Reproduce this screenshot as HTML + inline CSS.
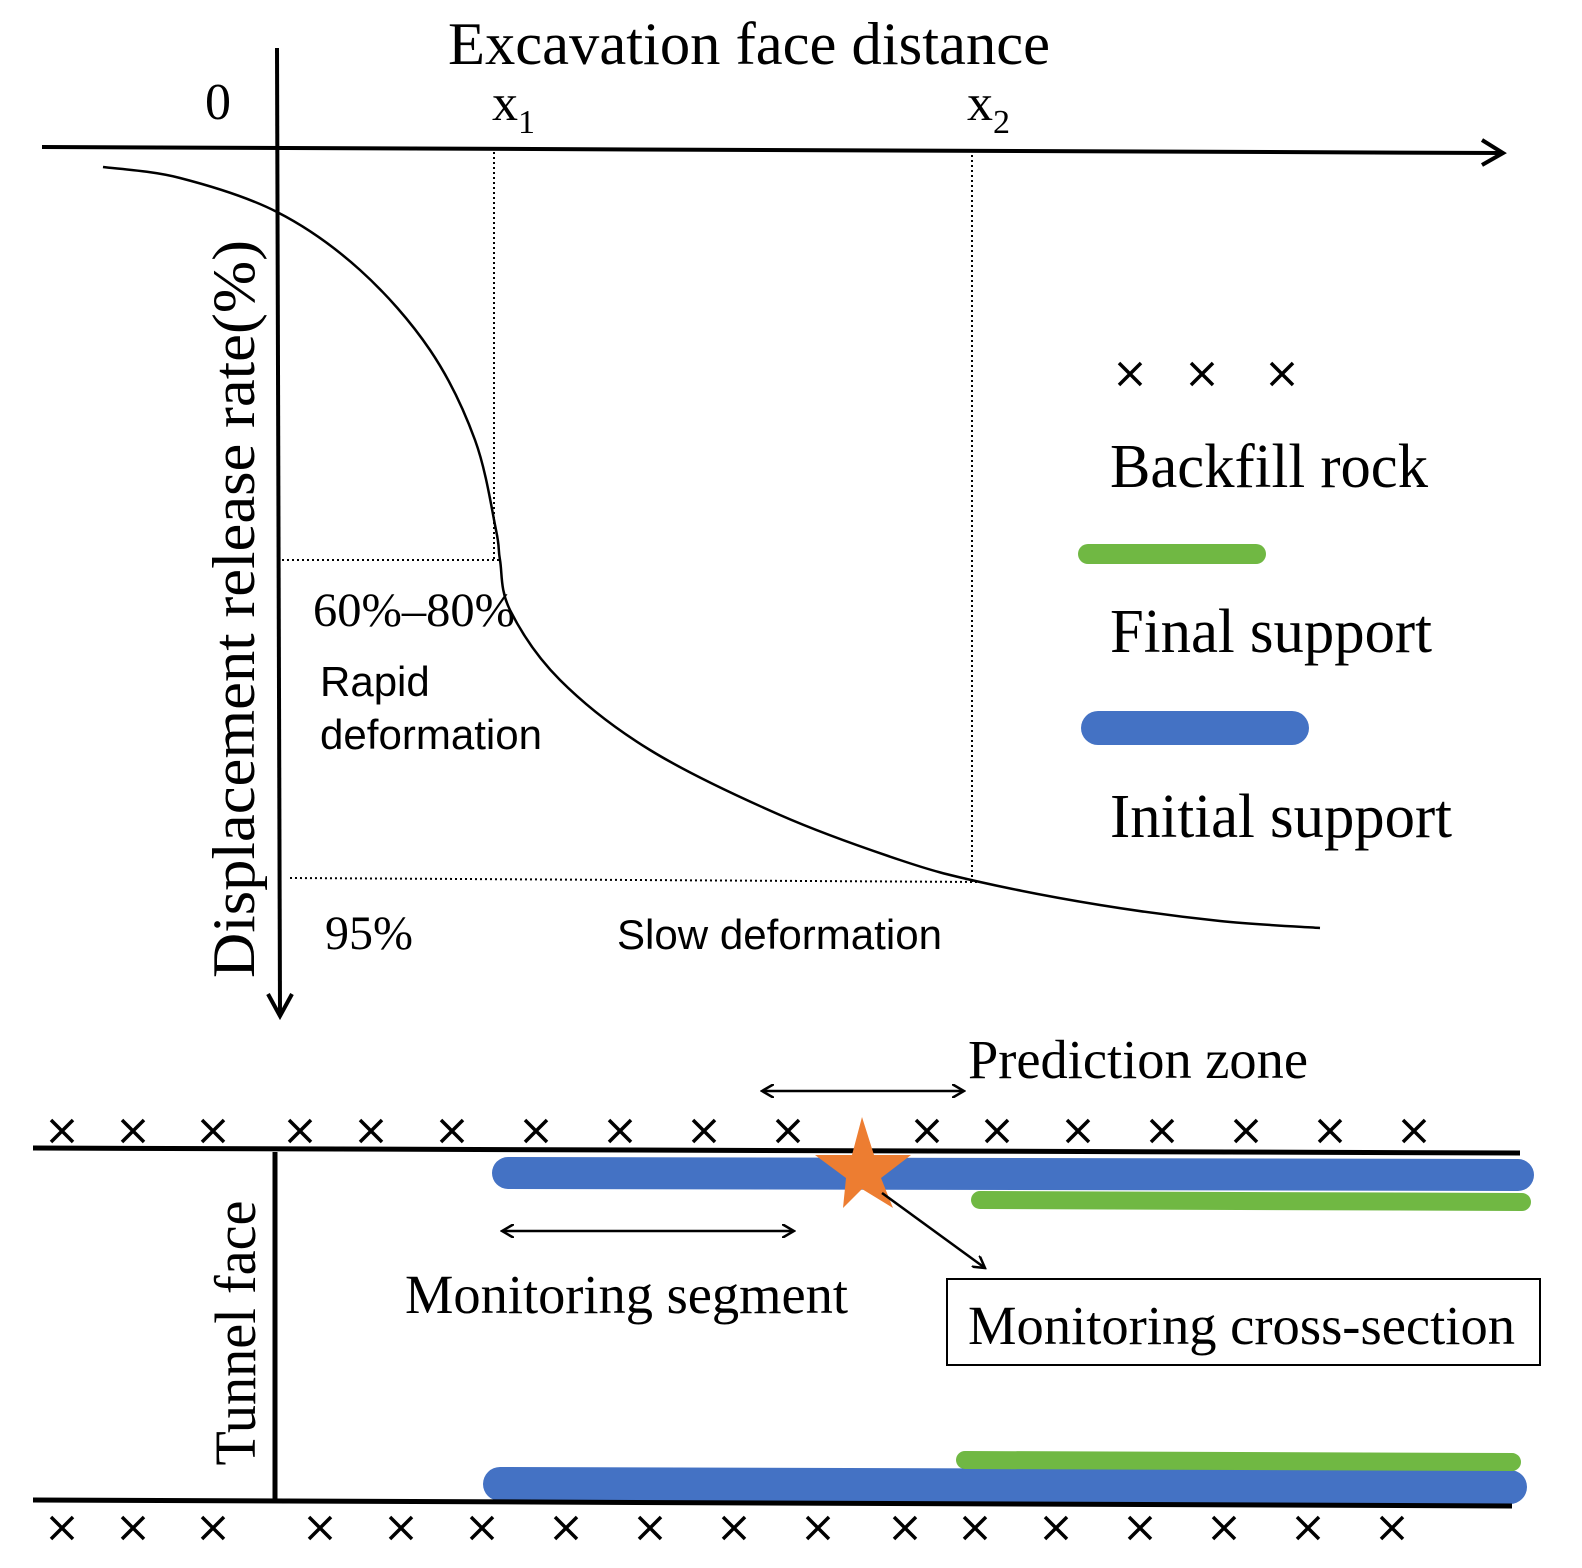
<!DOCTYPE html>
<html><head><meta charset="utf-8"><style>
html,body{margin:0;padding:0;background:#fff;}
svg{display:block;}
.serif{font-family:"Liberation Serif",serif;fill:#000;}
.sans{font-family:"Liberation Sans",sans-serif;fill:#000;}
</style></head><body>
<svg id="chart" width="1582" height="1568" viewBox="0 0 1582 1568" xmlns="http://www.w3.org/2000/svg">
<defs>
<marker id="ahs" markerWidth="14" markerHeight="14" refX="12" refY="7" orient="auto-start-reverse" markerUnits="userSpaceOnUse"><path d="M0,0 L12,7 L0,14" fill="none" stroke="#000" stroke-width="2.5"/></marker>
</defs>
<line x1="42" y1="147" x2="1500" y2="153" stroke="#000" stroke-width="4"/>
<path d="M1482,140 L1503,153 L1482,165" fill="none" stroke="#000" stroke-width="4"/>
<line x1="277" y1="48" x2="280" y2="1014" stroke="#000" stroke-width="4"/>
<path d="M268,994 L280,1016 L292,994" fill="none" stroke="#000" stroke-width="4"/>
<text class="serif" x="448" y="64" font-size="60" textLength="602" lengthAdjust="spacingAndGlyphs">Excavation face distance</text>
<text class="serif" x="205" y="119" font-size="52">0</text>
<text class="serif" x="492" y="120" font-size="52">x<tspan font-size="34" dy="13">1</tspan></text>
<text class="serif" x="967" y="120" font-size="52">x<tspan font-size="34" dy="13">2</tspan></text>
<text class="serif" font-size="60" transform="translate(254,609) rotate(-90)" text-anchor="middle" textLength="738" lengthAdjust="spacingAndGlyphs">Displacement release rate(%)</text>
<line x1="494" y1="152" x2="494" y2="560" stroke="#000" stroke-width="2" stroke-dasharray="2,3"/>
<line x1="972" y1="155" x2="972" y2="885" stroke="#000" stroke-width="2" stroke-dasharray="2,3"/>
<line x1="282" y1="560" x2="500" y2="560" stroke="#000" stroke-width="2" stroke-dasharray="2,3"/>
<line x1="290" y1="878" x2="980" y2="882" stroke="#000" stroke-width="2" stroke-dasharray="2,3"/>
<path id="curve" fill="none" stroke="#000" stroke-width="2.5"/>
<text class="serif" x="313" y="626" font-size="48" textLength="202" lengthAdjust="spacingAndGlyphs">60%–80%</text>
<text class="sans" x="320" y="696" font-size="42">Rapid</text>
<text class="sans" x="320" y="749" font-size="42" textLength="222" lengthAdjust="spacingAndGlyphs">deformation</text>
<text class="serif" x="325" y="949" font-size="48">95%</text>
<text class="sans" x="617" y="949" font-size="42" textLength="325" lengthAdjust="spacingAndGlyphs">Slow deformation</text>
<g id="legx"></g>
<text class="serif" x="1110" y="487" font-size="62" textLength="318" lengthAdjust="spacingAndGlyphs">Backfill rock</text>
<line x1="1088" y1="554" x2="1256" y2="554" stroke="#70b843" stroke-width="20" stroke-linecap="round"/>
<text class="serif" x="1110" y="652" font-size="62" textLength="322" lengthAdjust="spacingAndGlyphs">Final support</text>
<line x1="1098" y1="728" x2="1292" y2="728" stroke="#4472c4" stroke-width="34" stroke-linecap="round"/>
<text class="serif" x="1110" y="837" font-size="62" textLength="342" lengthAdjust="spacingAndGlyphs">Initial support</text>
<text class="serif" x="968" y="1078" font-size="55" textLength="340" lengthAdjust="spacingAndGlyphs">Prediction zone</text>
<line x1="762" y1="1091" x2="964" y2="1091" stroke="#000" stroke-width="2.5" marker-start="url(#ahs)" marker-end="url(#ahs)"/>
<line x1="508" y1="1173" x2="1518" y2="1175" stroke="#4472c4" stroke-width="32" stroke-linecap="round"/>
<line x1="980" y1="1200" x2="1522" y2="1202" stroke="#70b843" stroke-width="18" stroke-linecap="round"/>
<line x1="33" y1="1148" x2="1520" y2="1153" stroke="#000" stroke-width="5"/>
<line x1="500" y1="1484" x2="1510" y2="1487" stroke="#4472c4" stroke-width="34" stroke-linecap="round"/>
<line x1="965" y1="1460" x2="1512" y2="1462" stroke="#70b843" stroke-width="18" stroke-linecap="round"/>
<line x1="33" y1="1500" x2="1512" y2="1506" stroke="#000" stroke-width="5"/>
<line x1="275" y1="1152" x2="275" y2="1503" stroke="#000" stroke-width="5"/>
<text class="serif" font-size="58" transform="translate(255,1333) rotate(-90)" text-anchor="middle" textLength="265" lengthAdjust="spacingAndGlyphs">Tunnel face</text>
<g id="topx"></g>
<g id="botx"></g>
<polygon fill="#ed7d31" points="862,1117 874,1155 911,1155 881,1178 893,1208 862,1189 843,1208 846,1178 815,1155 852,1155"/>
<line x1="882" y1="1193" x2="985" y2="1268" stroke="#000" stroke-width="2.5" marker-end="url(#ahs)"/>
<line x1="502" y1="1231" x2="794" y2="1231" stroke="#000" stroke-width="2.5" marker-start="url(#ahs)" marker-end="url(#ahs)"/>
<text class="serif" x="405" y="1313" font-size="55" textLength="443" lengthAdjust="spacingAndGlyphs">Monitoring segment</text>
<rect x="947" y="1279" width="593" height="86" fill="none" stroke="#000" stroke-width="2"/>
<text class="serif" x="968" y="1344" font-size="55" textLength="547" lengthAdjust="spacingAndGlyphs">Monitoring cross-section</text>
</svg>
<script>
const curveX = [103, 180, 277, 360, 430, 475, 496, 500, 510, 560, 650, 780, 900, 980, 1100, 1220, 1320];
const curveY = [167, 178, 212, 270, 350, 440, 530, 560, 610, 680, 750, 815, 860, 882, 905, 921, 928];
const legendXs = [1130, 1202, 1282];
const topXs = [62,133,213,300,371,452,536,620,704,788,927,997,1078,1162,1246,1330,1414];
const botXs = [62,133,213,320,401,482,566,650,734,818,905,975,1056,1140,1224,1308,1392];
const NS = 'http://www.w3.org/2000/svg';
let d = 'M' + curveX[0] + ',' + curveY[0];
for (let i = 0; i < curveX.length - 1; i++) {
  const p0 = [curveX[Math.max(i-1,0)], curveY[Math.max(i-1,0)]];
  const p1 = [curveX[i], curveY[i]], p2 = [curveX[i+1], curveY[i+1]];
  const p3 = [curveX[Math.min(i+2,curveX.length-1)], curveY[Math.min(i+2,curveX.length-1)]];
  const c1 = [p1[0]+(p2[0]-p0[0])/6, p1[1]+(p2[1]-p0[1])/6];
  const c2 = [p2[0]-(p3[0]-p1[0])/6, p2[1]-(p3[1]-p1[1])/6];
  d += ' C' + c1 + ' ' + c2 + ' ' + p2;
}
document.getElementById('curve').setAttribute('d', d);
function cross(g, x, y, s) {
  const p = document.createElementNS(NS, 'path');
  p.setAttribute('d', `M${x-s},${y-s}L${x+s},${y+s}M${x+s},${y-s}L${x-s},${y+s}`);
  p.setAttribute('stroke', '#000');
  p.setAttribute('stroke-width', '3.5');
  
  
  g.appendChild(p);
}
legendXs.forEach(x => cross(document.getElementById('legx'), x, 374, 11));
topXs.forEach(x => cross(document.getElementById('topx'), x, 1131, 11));
botXs.forEach(x => cross(document.getElementById('botx'), x, 1528, 11));
</script>
</body></html>
